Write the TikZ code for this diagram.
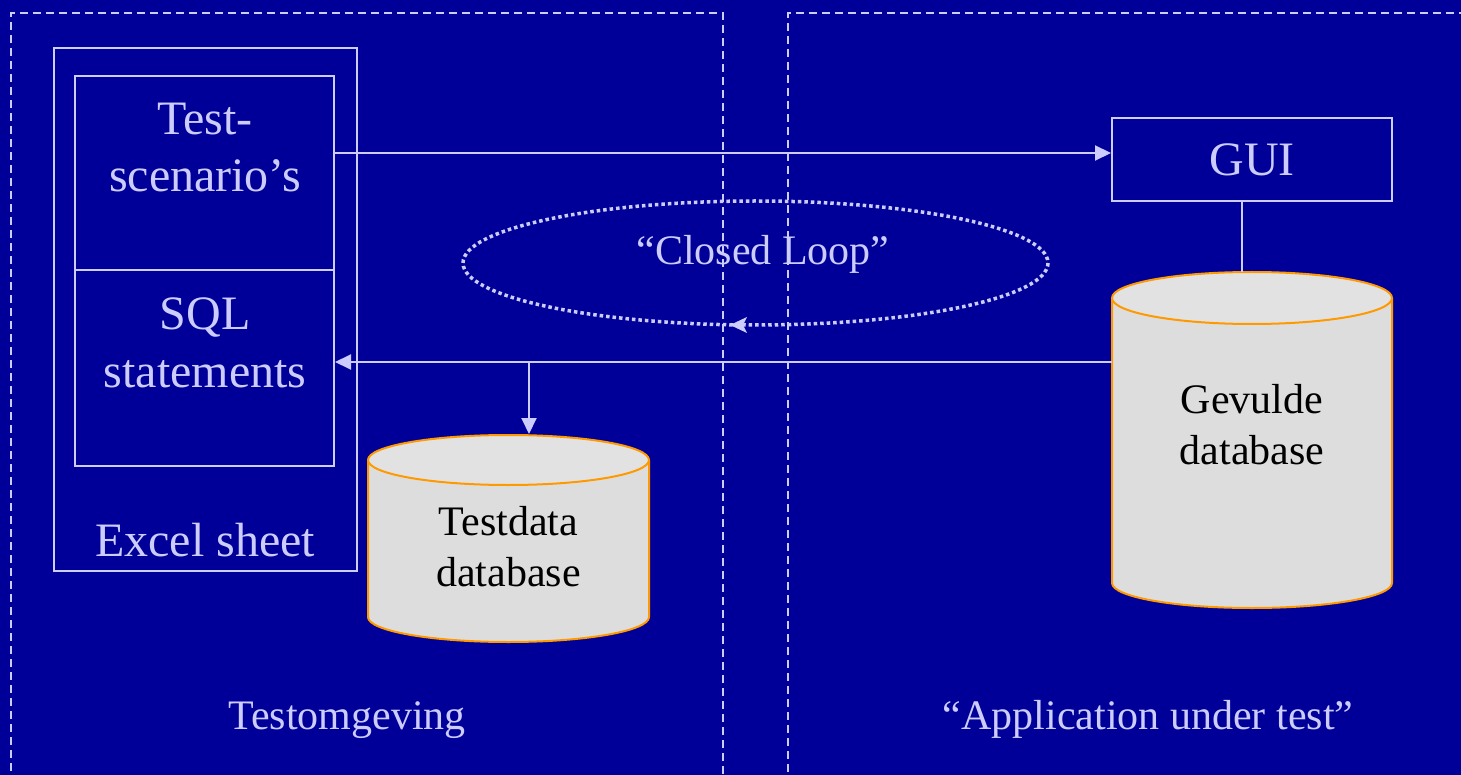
\documentclass[tikz,border=0pt]{standalone}
\usepackage{fontspec}
\setmainfont{Liberation Serif}
\usetikzlibrary{arrows.meta}
\definecolor{bg}{HTML}{000099}
\definecolor{fg}{HTML}{CCCCFF}
\definecolor{cylbody}{HTML}{DDDDDD}
\definecolor{cyltop}{HTML}{E2E2E2}
\definecolor{cylline}{HTML}{FF9900}
\tikzset{
  big/.style={text=fg, font=\fontsize{48}{57}\selectfont, inner sep=0pt, anchor=base},
  small/.style={text=fg, font=\fontsize{42}{50}\selectfont, inner sep=0pt, anchor=base},
  dbtext/.style={text=black, font=\fontsize{42}{50}\selectfont, inner sep=0pt, anchor=base},
  box/.style={draw=fg, line width=2pt, inner sep=0pt},
  zone/.style={draw=fg, line width=1.5pt, dash pattern=on 8pt off 5pt},
  conn/.style={draw=fg, line width=2pt},
  arr/.style={conn, -{Triangle[length=16pt,width=15pt]}},
  cylfill/.style={fill=cylbody},
  cylrim/.style={draw=cylline, line width=2pt},
}
\begin{document}
\begin{tikzpicture}[x=1pt,y=-1pt]
\fill[bg] (0,0) rectangle (1461,775);
\useasboundingbox (0,0) rectangle (1461,775);

% zones
\draw[zone] (723,800) -- (723,13) -- (11,13) -- (11,800);
\draw[zone] (1480,13) -- (788,13) -- (788,800);

% Excel sheet
\node[box, minimum width=303pt, minimum height=523pt] (excel) at (205.5,309.5) {};
\node[box, minimum width=259pt, minimum height=194pt] (scen) at (204.5,173) {};
\node[box, minimum width=259pt, minimum height=196pt] (sql) at (204.5,368) {};
\node[big] (t1) at (205,135) {Test-};
\node[big] (t2) at (205,192) {scenario’s};
\node[big] (t3) at (205,330) {SQL};
\node[big] (t4) at (205,387) {statements};
\node[big] (t5) at (205,556) {Excel sheet};

% GUI
\node[box, minimum width=280pt, minimum height=83pt] (gui) at (1252,159.5) {};
\node[big] (guit) at (1252,176) {GUI};

% Gevulde database cylinder
\path[cylfill] (1112,298) -- (1112,583) arc[start angle=180,end angle=0,x radius=140,y radius=25] -- (1392,298) -- cycle;
\draw[cylrim] (1112,298) -- (1112,583) arc[start angle=180,end angle=0,x radius=140,y radius=25] -- (1392,298);
\draw[cylrim, fill=cyltop] (1252,298) ellipse [x radius=140, y radius=26];
\node[dbtext] (g1) at (1252,413) {Gevulde};
\node[dbtext] (g2) at (1252,464) {database};
\coordinate (gevtop) at (1242,272);
\coordinate (gevleft) at (1112,362);

% Testdata database cylinder
\path[cylfill] (368,460) -- (368,617) arc[start angle=180,end angle=0,x radius=140.5,y radius=25] -- (649,460) -- cycle;
\draw[cylrim] (368,460) -- (368,617) arc[start angle=180,end angle=0,x radius=140.5,y radius=25] -- (649,460);
\draw[cylrim, fill=cyltop] (508.5,460) ellipse [x radius=140.5, y radius=25];
\node[dbtext] (d1) at (508.5,535) {Testdata};
\node[dbtext] (d2) at (508.5,586) {database};
\coordinate (tdtop) at (529,434);

% connectors
\coordinate (a1) at (334,153);
\draw[arr] (a1) -- (a1 -| gui.west);
\coordinate (guibot) at (1242,201);
\draw[conn] (guibot) -- (gevtop);
\draw[arr] (gevleft) -- (gevleft -| sql.east);
\coordinate (split) at (529,362);
\draw[arr] (split) -- (tdtop);

% closed loop
\node[small] (loop) at (763,265) {“Closed Loop”};
\draw[fg, line width=3.5pt, dash pattern=on 3.5pt off 3pt] (755.5,263) ellipse [x radius=292.5, y radius=62];
\coordinate (loopb) at (730,325);
\fill[fg] (loopb) -- ++(17,-8) -- ++(-4,8) -- ++(4,8) -- cycle;

% zone labels
\node[small] (z1) at (347,729) {Testomgeving};
\node[small] (z2) at (1148,729) {“Application under test”};
\end{tikzpicture}
\end{document}
